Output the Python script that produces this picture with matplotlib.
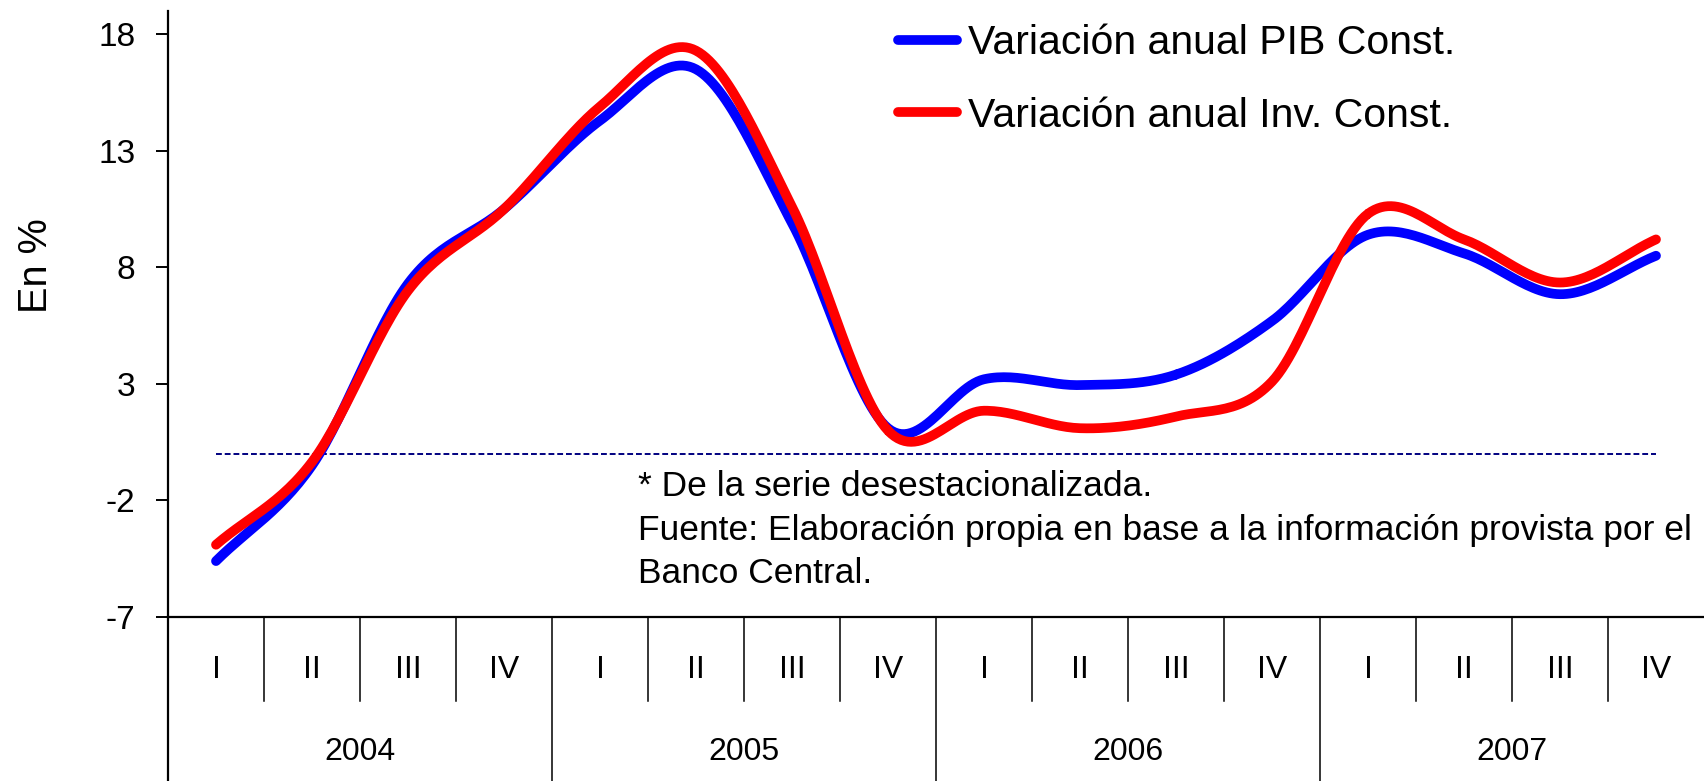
import numpy as np
import matplotlib
matplotlib.use("Agg")
import matplotlib.pyplot as plt

plt.rcParams['font.family'] = ['Liberation Sans', 'DejaVu Sans']
plt.rcParams['axes.unicode_minus'] = False

# Data: quarterly annual variation (%), 2004-2007
years = ["2004", "2005", "2006", "2007"]
quarters = ["I", "II", "III", "IV"]
pib = [-4.6, -0.5, 7.3, 10.5, 14.3, 16.5, 9.9, 1.1,
       3.2, 2.95, 3.4, 5.7, 9.4, 8.6, 6.85, 8.5]
inv = [-3.9, -0.35, 7.0, 10.5, 14.9, 17.3, 10.6, 1.0,
       1.85, 1.1, 1.6, 3.1, 10.3, 9.2, 7.35, 9.2]
labels = ["Variación anual PIB Const.", "Variación anual Inv. Const."]
note = ("* De la serie desestacionalizada.\n"
        "Fuente: Elaboración propia en base a la información provista por el\n"
        "Banco Central.")


def smooth(x, y, n=30):
    # Catmull-Rom style smoothing, like the spreadsheet's "smoothed line"
    x = np.asarray(x, float)
    y = np.asarray(y, float)
    px = np.concatenate([[2 * x[0] - x[1]], x, [2 * x[-1] - x[-2]]])
    py = np.concatenate([[2 * y[0] - y[1]], y, [2 * y[-1] - y[-2]]])
    xs, ys = [], []
    t = np.linspace(0, 1, n)
    for i in range(1, len(px) - 2):
        for p, out in ((px, xs), (py, ys)):
            p0, p1, p2, p3 = p[i - 1], p[i], p[i + 1], p[i + 2]
            out.extend(0.5 * ((2 * p1) + (-p0 + p2) * t
                              + (2 * p0 - 5 * p1 + 4 * p2 - p3) * t ** 2
                              + (-p0 + 3 * p1 - 3 * p2 + p3) * t ** 3))
    return np.array(xs), np.array(ys)


fig = plt.figure(figsize=(17.04, 7.81), dpi=100)
ax = fig.add_axes([168 / 1704, 164 / 781, 1 - 168 / 1704, 606 / 781])

xpos = np.arange(len(pib)) + 0.5
ax.plot([xpos[0], xpos[-1]], [0, 0], color="#000080", lw=1.4,
        dashes=(3, 1.5))
bx, by = smooth(xpos, pib)
ax.plot(bx, by, color="#0000ff", lw=7, solid_capstyle="round", label=labels[0])
rx, ry = smooth(xpos, inv)
ax.plot(rx, ry, color="#ff0000", lw=7, solid_capstyle="round", label=labels[1])

ax.set_xlim(0, 16)
ax.set_ylim(-7, 19)
ax.set_yticks([-7, -2, 3, 8, 13, 18])
ax.tick_params(axis="y", direction="out", length=8.6, width=1.4,
               labelsize=24, pad=15)
ax.set_xticks([])
for s in ["top", "right"]:
    ax.spines[s].set_visible(False)
ax.spines["left"].set_linewidth(1.6)
ax.spines["bottom"].set_linewidth(1.6)
ax.set_ylabel("En %", fontsize=28.5, va="center")
ax.yaxis.set_label_coords(-132 / 1536, 351 / 606)

# category axis below the plot
tr = ax.get_xaxis_transform()
bottom = -164 / 606
qdrop = -84 / 606
ax.plot([0, 0], [0, bottom], transform=tr, color="black", lw=1.6, clip_on=False)
for i in range(1, 16):
    y1 = bottom if i % 4 == 0 else qdrop
    ax.plot([i, i], [0, y1], transform=tr, color="black", lw=1.1, clip_on=False)
for i in range(16):
    ax.text(i + 0.5, -53 / 606, quarters[i % 4], transform=tr,
            ha="center", va="center", fontsize=23)
for j, yr in enumerate(years):
    ax.text(4 * j + 2, -135 / 606, yr, transform=tr,
            ha="center", va="center", fontsize=23)

ax.text(4.9, -0.7, note, fontsize=25.5, va="top", ha="left", linespacing=1.4)

ax.legend(loc="upper left", bbox_to_anchor=(898 / 1704, 0.969),
          bbox_transform=fig.transFigure, frameon=False, fontsize=29.5,
          handlelength=1.45, handletextpad=0.27, labelspacing=0.84,
          borderpad=0, borderaxespad=0)

fig.savefig("out.png", dpi=100)
